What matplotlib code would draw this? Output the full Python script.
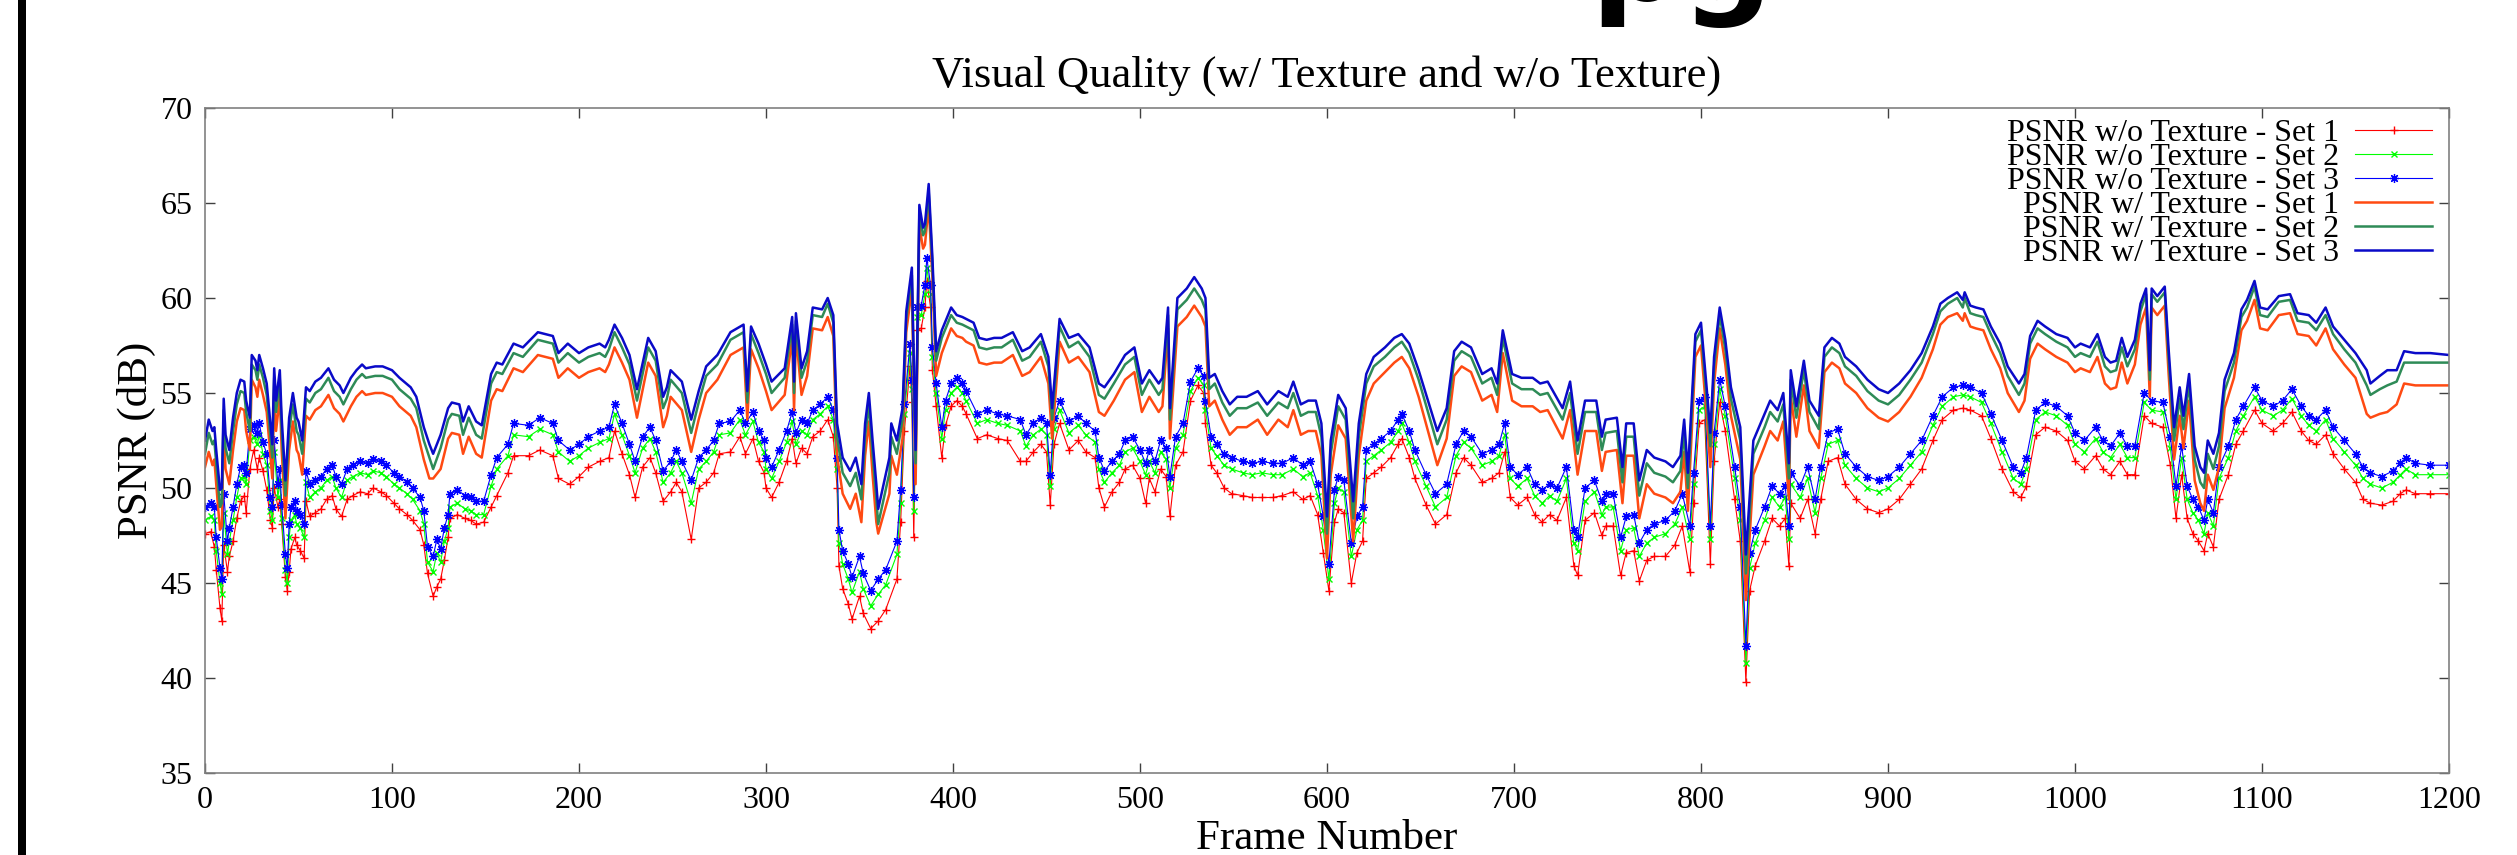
import matplotlib
matplotlib.use("Agg")
import matplotlib.pyplot as plt
from matplotlib.patches import Rectangle

# ---- data (frame number, PSNR in dB) ----
FRAMES_TEX = [
    0, 2, 4, 5, 6, 8, 9, 10, 11, 13,
    15, 17, 19, 21, 22, 24, 25, 27, 28, 29,
    31, 33, 35, 36, 37, 38, 40, 41, 43, 44,
    45, 47, 49, 50, 52, 54, 56, 59, 62, 66,
    69, 72, 74, 78, 81, 84, 86, 91, 95, 100,
    104, 110, 113, 117, 120, 122, 126, 130, 132, 136,
    138, 141, 145, 148, 153, 156, 159, 165, 170, 178,
    186, 189, 194, 200, 205, 211, 214, 216, 219, 223,
    227, 231, 237, 241, 245, 247, 249, 255, 260, 264,
    268, 274, 281, 288, 290, 292, 296, 300, 303, 310,
    314, 315, 316, 319, 322, 325, 330, 333, 336, 338,
    341, 345, 348, 351, 353, 355, 357, 359, 360, 366,
    367, 370, 373, 375, 378, 380, 382, 384, 385, 387,
    389, 391, 394, 399, 402, 405, 407, 411, 414, 418,
    422, 426, 432, 437, 441, 447, 451, 453, 457, 462,
    467, 473, 478, 481, 486, 492, 497, 501, 505, 510,
    512, 515, 516, 520, 525, 529, 533, 535, 537, 540,
    544, 548, 552, 557, 563, 568, 574, 579, 582, 586,
    590, 594, 597, 600, 602, 606, 610, 614, 617, 621,
    625, 631, 636, 640, 644, 649, 654, 659, 664, 668,
    672, 677, 683, 688, 691, 694, 699, 704, 710, 714,
    718, 726, 730, 734, 738, 744, 747, 749, 755, 758,
    760, 764, 767, 771, 775, 781, 785, 789, 791, 793,
    797, 800, 803, 805, 807, 810, 813, 816, 821, 824,
    828, 834, 837, 841, 844, 847, 848, 851, 855, 858,
    863, 866, 870, 874, 877, 883, 889, 895, 900, 906,
    912, 918, 924, 928, 932, 937, 940, 941, 944, 947,
    951, 955, 960, 964, 970, 973, 976, 980, 984, 990,
    996, 1000, 1003, 1008, 1012, 1016, 1019, 1022, 1025, 1028,
    1032, 1035, 1038, 1040, 1041, 1044, 1048, 1050, 1053, 1056,
    1058, 1061, 1064, 1067, 1069, 1071, 1074, 1077, 1080, 1085,
    1089, 1092, 1096, 1099, 1103, 1109, 1115, 1119, 1125, 1129,
    1134, 1138, 1144, 1150, 1156, 1158, 1163, 1167, 1172, 1176,
    1182, 1190, 1200,
]
TEX_SET3 = [
    52.5, 53.6, 53.0, 53.2, 52.0, 49.9, 50.0, 54.7, 52.8, 52.0,
    53.7, 55.0, 55.7, 55.6, 54.6, 53.7, 57.0, 56.7, 56.2, 57.0,
    56.3, 55.5, 53.4, 52.3, 56.3, 54.6, 56.2, 53.7, 50.4, 52.0,
    53.7, 55.0, 53.7, 53.5, 52.5, 55.3, 55.1, 55.6, 55.8, 56.3,
    55.7, 55.4, 55.0, 55.8, 56.2, 56.5, 56.3, 56.4, 56.4, 56.2,
    55.8, 55.3, 54.8, 53.2, 52.3, 51.8, 52.8, 54.2, 54.5, 54.4,
    53.5, 54.3, 53.5, 53.3, 56.0, 56.6, 56.5, 57.6, 57.4, 58.2,
    58.0, 57.1, 57.6, 57.1, 57.4, 57.6, 57.4, 57.8, 58.6, 57.9,
    57.0, 55.2, 57.9, 57.2, 54.8, 55.3, 56.2, 55.6, 53.6, 55.1,
    56.4, 57.0, 58.2, 58.6, 55.1, 58.5, 57.6, 56.5, 55.6, 56.3,
    59.0, 55.6, 59.2, 56.3, 57.2, 59.5, 59.4, 60.0, 59.1, 53.4,
    51.6, 50.9, 51.6, 50.2, 53.4, 55.0, 52.5, 50.2, 48.9, 51.6,
    53.4, 52.5, 54.2, 59.3, 61.6, 52.0, 64.9, 63.7, 63.9, 66.0,
    62.1, 57.2, 58.3, 59.5, 59.1, 59.0, 58.9, 58.7, 57.9, 57.8,
    57.9, 57.9, 58.2, 57.2, 57.4, 58.1, 56.9, 54.2, 58.9, 57.9,
    58.1, 57.4, 55.5, 55.3, 56.0, 57.0, 57.4, 55.5, 56.2, 55.5,
    55.8, 59.5, 54.2, 60.0, 60.5, 61.1, 60.5, 60.0, 55.8, 56.0,
    55.1, 54.4, 54.8, 54.8, 55.1, 54.4, 55.1, 54.8, 55.6, 54.4,
    54.6, 54.6, 53.4, 48.5, 52.5, 54.9, 54.2, 49.3, 53.4, 56.0,
    56.9, 57.4, 57.9, 58.1, 57.6, 56.2, 54.6, 53.0, 54.2, 57.2,
    57.7, 57.4, 56.0, 56.3, 55.5, 58.3, 56.0, 55.8, 55.8, 55.5,
    55.6, 54.2, 55.6, 52.5, 54.6, 54.6, 52.7, 53.6, 53.7, 51.1,
    53.4, 53.4, 50.4, 52.0, 51.6, 51.4, 51.1, 51.7, 53.6, 50.8,
    58.1, 58.7, 55.3, 52.9, 56.9, 59.5, 57.8, 55.3, 53.2, 46.5,
    52.5, 53.9, 54.6, 54.1, 55.0, 51.3, 56.2, 54.3, 56.7, 54.6,
    53.8, 57.4, 57.9, 57.6, 56.9, 56.4, 55.7, 55.2, 55.0, 55.5,
    56.2, 57.1, 58.5, 59.7, 60.0, 60.3, 59.9, 60.3, 59.6, 59.5,
    59.4, 58.5, 57.6, 56.4, 55.5, 56.0, 58.0, 58.8, 58.5, 58.1,
    57.9, 57.4, 57.6, 57.4, 58.1, 56.9, 56.6, 56.7, 57.9, 56.9,
    57.8, 59.7, 60.5, 56.2, 60.5, 60.1, 60.6, 57.4, 53.2, 55.3,
    53.8, 56.0, 52.2, 51.1, 50.8, 52.5, 51.8, 52.9, 55.7, 57.1,
    59.4, 59.9, 60.9, 59.5, 59.4, 60.1, 60.2, 59.2, 59.1, 58.7,
    59.5, 58.5, 57.8, 57.1, 56.2, 55.5, 55.9, 56.2, 56.2, 57.2,
    57.1, 57.1, 57.0,
]
TEX_SET2 = [
    51.8, 52.9, 52.3, 52.5, 51.3, 49.0, 49.2, 54.1, 52.1, 51.3,
    53.0, 54.4, 55.1, 55.0, 54.0, 53.0, 56.5, 56.2, 55.7, 56.5,
    55.8, 54.9, 52.7, 51.6, 55.8, 54.0, 55.7, 53.0, 49.6, 51.3,
    53.0, 54.4, 53.0, 52.8, 51.8, 54.7, 54.5, 55.0, 55.2, 55.8,
    55.1, 54.8, 54.4, 55.2, 55.7, 56.0, 55.8, 55.9, 55.9, 55.7,
    55.2, 54.7, 54.2, 52.5, 51.6, 51.0, 52.1, 53.6, 53.9, 53.8,
    52.8, 53.7, 52.8, 52.6, 55.5, 56.1, 56.0, 57.1, 56.9, 57.8,
    57.6, 56.6, 57.1, 56.6, 56.9, 57.1, 56.9, 57.3, 58.2, 57.4,
    56.5, 54.6, 57.4, 56.7, 54.2, 54.7, 55.7, 55.0, 52.9, 54.5,
    55.9, 56.5, 57.8, 58.2, 54.5, 58.1, 57.1, 56.0, 55.0, 55.8,
    58.6, 55.0, 58.8, 55.8, 56.7, 59.1, 59.0, 59.7, 58.7, 52.7,
    50.8, 50.1, 50.8, 49.4, 52.7, 54.4, 51.8, 49.4, 48.1, 50.8,
    52.7, 51.8, 53.6, 58.9, 61.2, 51.3, 64.5, 63.3, 63.5, 65.6,
    61.7, 56.7, 57.9, 59.1, 58.7, 58.6, 58.5, 58.3, 57.4, 57.3,
    57.4, 57.4, 57.8, 56.7, 56.9, 57.7, 56.4, 53.6, 58.5, 57.4,
    57.7, 56.9, 54.9, 54.7, 55.5, 56.5, 56.9, 54.9, 55.7, 54.9,
    55.2, 59.1, 53.6, 59.4, 59.9, 60.5, 59.9, 59.4, 55.2, 55.5,
    54.5, 53.8, 54.2, 54.2, 54.5, 53.8, 54.5, 54.2, 55.0, 53.8,
    54.0, 54.0, 52.7, 47.6, 51.8, 54.3, 53.6, 48.4, 52.7, 55.5,
    56.4, 56.9, 57.4, 57.7, 57.1, 55.7, 54.0, 52.3, 53.6, 56.7,
    57.2, 56.9, 55.5, 55.8, 54.9, 57.9, 55.5, 55.2, 55.2, 54.9,
    55.0, 53.6, 55.0, 51.8, 54.0, 54.0, 52.0, 52.9, 53.0, 50.3,
    52.7, 52.7, 49.6, 51.3, 50.8, 50.6, 50.3, 50.9, 52.9, 50.0,
    57.7, 58.3, 54.7, 52.2, 56.4, 59.1, 57.3, 54.7, 52.5, 45.5,
    51.8, 53.2, 54.0, 53.5, 54.4, 50.5, 55.7, 53.7, 56.2, 54.0,
    53.1, 56.9, 57.4, 57.1, 56.4, 55.9, 55.1, 54.6, 54.4, 54.9,
    55.7, 56.6, 58.1, 59.3, 59.7, 60.0, 59.5, 60.0, 59.2, 59.1,
    59.0, 58.1, 57.1, 55.9, 54.9, 55.5, 57.6, 58.4, 58.1, 57.7,
    57.4, 56.9, 57.1, 56.9, 57.7, 56.4, 56.1, 56.2, 57.4, 56.4,
    57.3, 59.3, 60.2, 55.7, 60.2, 59.8, 60.3, 56.9, 52.5, 54.7,
    53.1, 55.5, 51.5, 50.3, 50.0, 51.8, 51.0, 52.2, 55.1, 56.6,
    59.0, 59.5, 60.6, 59.1, 59.0, 59.8, 59.9, 58.8, 58.7, 58.3,
    59.1, 58.1, 57.3, 56.6, 55.4, 54.9, 55.2, 55.4, 55.6, 56.6,
    56.6, 56.6, 56.6,
]
TEX_SET1 = [
    51.1, 51.9, 51.2, 51.5, 50.2, 47.8, 48.0, 53.1, 51.0, 50.2,
    52.0, 53.5, 54.2, 54.1, 53.0, 52.0, 55.7, 55.3, 54.8, 55.7,
    54.9, 54.0, 51.7, 50.5, 54.9, 53.0, 54.8, 52.0, 48.4, 50.2,
    52.0, 53.5, 52.0, 51.8, 50.7, 53.8, 53.6, 54.1, 54.3, 54.9,
    54.2, 53.9, 53.5, 54.3, 54.8, 55.1, 54.9, 55.0, 55.0, 54.8,
    54.3, 53.8, 53.2, 51.5, 50.5, 50.5, 51.0, 52.6, 52.9, 52.8,
    51.8, 52.7, 51.8, 51.6, 54.6, 55.2, 55.1, 56.3, 56.1, 57.0,
    56.8, 55.8, 56.3, 55.8, 56.1, 56.3, 56.1, 56.5, 57.4, 56.6,
    55.7, 53.7, 56.6, 55.9, 53.2, 53.8, 54.8, 54.1, 51.9, 53.6,
    55.0, 55.7, 57.0, 57.4, 53.6, 57.3, 56.3, 55.1, 54.1, 54.9,
    57.9, 54.1, 58.1, 54.9, 55.9, 58.4, 58.3, 59.0, 58.0, 51.7,
    49.7, 48.9, 49.7, 48.2, 51.7, 53.5, 50.7, 48.2, 47.6, 49.7,
    51.7, 50.7, 52.6, 58.2, 60.5, 50.2, 63.8, 62.6, 62.8, 64.9,
    61.0, 55.9, 57.1, 58.4, 58.0, 57.9, 57.7, 57.5, 56.6, 56.5,
    56.6, 56.6, 57.0, 55.9, 56.1, 56.9, 55.5, 52.6, 57.7, 56.6,
    56.9, 56.1, 54.0, 53.8, 54.6, 55.7, 56.1, 54.0, 54.8, 54.0,
    54.3, 58.4, 52.6, 58.5, 59.0, 59.6, 59.0, 58.5, 54.3, 54.6,
    53.6, 52.8, 53.2, 53.2, 53.6, 52.8, 53.6, 53.2, 54.1, 52.8,
    53.0, 53.0, 51.7, 46.3, 50.7, 53.3, 52.6, 47.2, 51.7, 54.6,
    55.5, 56.1, 56.6, 56.9, 56.3, 54.8, 53.0, 51.2, 52.6, 55.9,
    56.4, 56.1, 54.6, 54.9, 54.0, 57.1, 54.6, 54.3, 54.3, 54.0,
    54.1, 52.6, 54.1, 50.7, 53.0, 53.0, 50.9, 51.9, 52.0, 49.2,
    51.7, 51.7, 48.4, 50.2, 49.7, 49.5, 49.2, 49.8, 51.9, 48.8,
    56.9, 57.5, 53.8, 51.1, 55.5, 58.4, 56.5, 53.8, 51.5, 44.1,
    50.7, 52.2, 53.0, 52.5, 53.5, 49.4, 54.8, 52.7, 55.4, 53.0,
    52.1, 56.1, 56.6, 56.3, 55.5, 55.0, 54.2, 53.7, 53.5, 54.0,
    54.8, 55.8, 57.3, 58.6, 59.0, 59.2, 58.8, 59.2, 58.5, 58.4,
    58.3, 57.3, 56.3, 55.0, 54.0, 54.6, 56.8, 57.6, 57.3, 56.9,
    56.6, 56.1, 56.3, 56.1, 56.9, 55.5, 55.2, 55.3, 56.6, 55.5,
    56.5, 58.6, 59.5, 54.8, 59.5, 59.1, 59.6, 56.1, 51.5, 53.8,
    52.1, 54.6, 50.4, 49.2, 48.8, 50.7, 49.9, 51.1, 54.2, 55.8,
    58.3, 58.8, 59.9, 58.4, 58.3, 59.1, 59.2, 58.1, 58.0, 57.5,
    58.4, 57.3, 56.5, 55.8, 53.9, 53.7, 53.9, 54.0, 54.4, 55.5,
    55.4, 55.4, 55.4,
]

FRAMES_NOTEX = [
    0, 3, 5, 6, 8, 9, 10, 12, 13, 15,
    17, 19, 21, 22, 24, 26, 28, 29, 31, 33,
    35, 36, 37, 39, 40, 41, 43, 44, 45, 46,
    48, 49, 51, 53, 54, 56, 59, 62, 65, 68,
    70, 73, 76, 79, 83, 87, 90, 94, 97, 101,
    104, 108, 111, 115, 117, 119, 122, 124, 126, 128,
    130, 131, 135, 139, 142, 145, 149, 153, 156, 162,
    165, 173, 179, 186, 189, 195, 200, 205, 211, 216,
    219, 223, 227, 230, 234, 238, 241, 245, 249, 252,
    255, 260, 264, 268, 272, 275, 281, 286, 289, 293,
    296, 299, 300, 303, 307, 311, 314, 316, 319, 322,
    325, 329, 333, 336, 338, 339, 341, 344, 346, 350,
    352, 356, 360, 364, 370, 372, 374, 377, 378, 379,
    381, 383, 385, 386, 388, 389, 391, 394, 396, 399,
    402, 405, 407, 413, 418, 424, 429, 436, 439, 443,
    447, 450, 452, 454, 457, 462, 467, 471, 476, 478,
    481, 485, 489, 492, 496, 500, 503, 505, 508, 511,
    514, 516, 519, 523, 527, 531, 534, 535, 538, 541,
    545, 549, 555, 560, 565, 571, 576, 582, 587, 591,
    595, 598, 601, 604, 606, 609, 613, 616, 619, 621,
    625, 629, 634, 638, 640, 644, 647, 653, 658, 664,
    669, 673, 677, 683, 688, 692, 695, 698, 702, 707,
    711, 715, 719, 723, 728, 732, 734, 738, 743, 747,
    749, 753, 757, 760, 764, 767, 771, 775, 781, 786,
    790, 794, 796, 799, 802, 805, 807, 810, 813, 818,
    821, 824, 826, 829, 834, 838, 842, 845, 847, 848,
    853, 857, 861, 864, 868, 873, 877, 883, 889, 895,
    900, 906, 912, 918, 924, 929, 935, 940, 944, 950,
    955, 961, 967, 971, 974, 979, 984, 990, 996, 1000,
    1005, 1011, 1015, 1019, 1024, 1028, 1032, 1037, 1041, 1047,
    1051, 1054, 1057, 1060, 1063, 1066, 1069, 1071, 1074, 1077,
    1082, 1086, 1090, 1096, 1100, 1106, 1111, 1116, 1121, 1125,
    1129, 1134, 1138, 1144, 1150, 1154, 1158, 1164, 1170, 1174,
    1177, 1182, 1190, 1200,
]
NOTEX_SET3 = [
    49.0, 49.2, 49.0, 47.4, 45.8, 45.2, 49.7, 47.2, 47.9, 49.0,
    50.2, 51.1, 51.2, 50.8, 53.1, 53.3, 52.9, 53.4, 52.4, 51.8,
    49.5, 49.0, 52.5, 50.2, 51.0, 49.1, 46.5, 45.8, 48.1, 49.0,
    49.3, 48.8, 48.6, 48.1, 50.9, 50.2, 50.4, 50.6, 51.0, 51.2,
    50.6, 50.2, 51.0, 51.2, 51.4, 51.3, 51.5, 51.4, 51.2, 50.8,
    50.6, 50.3, 50.0, 49.5, 48.8, 46.9, 46.4, 47.3, 46.8, 47.9,
    48.6, 49.7, 49.9, 49.6, 49.5, 49.3, 49.3, 50.7, 51.6, 52.3,
    53.4, 53.3, 53.7, 53.4, 52.5, 52.0, 52.3, 52.7, 53.0, 53.2,
    54.4, 53.4, 52.3, 51.4, 52.7, 53.2, 52.5, 50.9, 51.4, 52.0,
    51.4, 50.4, 51.6, 52.0, 52.5, 53.4, 53.5, 54.1, 53.4, 54.0,
    53.0, 52.5, 51.6, 51.1, 52.0, 53.0, 54.0, 52.9, 53.6, 53.4,
    54.1, 54.4, 54.8, 54.1, 51.6, 47.8, 46.7, 46.0, 45.3, 46.4,
    45.5, 44.6, 45.2, 45.7, 47.2, 49.9, 54.4, 57.6, 55.7, 49.5,
    59.5, 59.6, 60.7, 62.1, 60.7, 57.4, 55.5, 53.2, 54.6, 55.5,
    55.8, 55.5, 55.1, 53.9, 54.1, 53.9, 53.8, 53.6, 52.8, 53.4,
    53.7, 53.4, 50.7, 53.7, 54.6, 53.5, 53.8, 53.4, 53.0, 51.6,
    50.9, 51.4, 51.8, 52.5, 52.7, 52.0, 51.3, 52.0, 51.4, 52.5,
    52.1, 50.6, 52.7, 53.4, 55.6, 56.3, 55.9, 54.6, 52.7, 52.3,
    51.8, 51.6, 51.4, 51.3, 51.4, 51.3, 51.3, 51.6, 51.2, 51.4,
    50.2, 48.5, 46.0, 49.9, 50.6, 50.4, 47.1, 48.5, 49.0, 52.0,
    52.3, 52.6, 53.0, 53.6, 53.9, 53.0, 52.0, 50.7, 49.7, 50.2,
    52.3, 53.0, 52.7, 51.8, 52.0, 52.3, 53.4, 51.1, 50.7, 51.1,
    50.2, 49.9, 50.2, 50.0, 51.1, 47.8, 47.4, 50.0, 50.4, 49.3,
    49.7, 49.7, 47.4, 48.5, 48.6, 47.1, 47.8, 48.1, 48.3, 48.8,
    49.7, 48.0, 50.8, 54.6, 54.8, 48.0, 52.9, 55.7, 54.3, 51.1,
    49.0, 41.7, 46.6, 47.8, 49.0, 50.1, 49.7, 50.1, 48.0, 50.8,
    50.1, 51.1, 49.4, 51.1, 52.9, 53.1, 51.8, 51.1, 50.6, 50.4,
    50.6, 51.1, 51.8, 52.5, 53.8, 54.8, 55.3, 55.4, 55.3, 55.0,
    53.9, 52.5, 51.1, 50.8, 51.6, 54.1, 54.5, 54.3, 53.8, 52.9,
    52.5, 53.2, 52.5, 52.2, 52.9, 52.2, 52.2, 55.0, 54.6, 54.5,
    52.7, 50.1, 52.2, 50.1, 49.4, 49.0, 48.3, 49.4, 48.7, 51.1,
    52.2, 53.6, 54.3, 55.3, 54.6, 54.3, 54.6, 55.2, 54.3, 53.8,
    53.6, 54.1, 53.2, 52.5, 51.8, 51.1, 50.8, 50.6, 50.9, 51.3,
    51.6, 51.3, 51.2, 51.2,
]
NOTEX_SET2 = [
    48.3, 48.5, 48.3, 46.7, 45.0, 44.4, 48.7, 46.5, 47.2, 48.3,
    49.5, 50.5, 50.6, 50.2, 52.5, 52.7, 52.3, 52.8, 51.8, 51.2,
    48.8, 48.3, 51.9, 49.5, 50.4, 48.4, 45.7, 45.0, 47.4, 48.3,
    48.6, 48.1, 47.9, 47.4, 50.3, 49.5, 49.8, 50.0, 50.4, 50.6,
    50.0, 49.5, 50.4, 50.6, 50.8, 50.7, 50.9, 50.8, 50.6, 50.2,
    50.0, 49.7, 49.4, 48.8, 48.1, 46.1, 45.6, 46.6, 46.1, 47.2,
    47.9, 49.0, 49.2, 48.9, 48.8, 48.6, 48.6, 50.1, 51.0, 51.7,
    52.8, 52.7, 53.1, 52.8, 51.9, 51.4, 51.7, 52.1, 52.4, 52.6,
    53.9, 52.8, 51.7, 50.8, 52.1, 52.6, 51.9, 50.3, 50.8, 51.4,
    50.8, 49.2, 51.0, 51.4, 51.9, 52.8, 52.9, 53.6, 52.8, 53.5,
    52.4, 51.9, 51.0, 50.5, 51.4, 52.4, 53.5, 52.3, 53.0, 52.8,
    53.6, 53.9, 54.3, 53.6, 51.0, 47.1, 46.0, 45.2, 44.5, 45.6,
    44.7, 43.8, 44.4, 44.9, 46.5, 49.2, 53.9, 57.1, 55.2, 48.8,
    59.0, 59.1, 60.2, 61.6, 60.2, 56.9, 55.0, 52.6, 54.1, 55.0,
    55.3, 55.0, 54.6, 53.4, 53.6, 53.4, 53.3, 53.0, 52.2, 52.8,
    53.1, 52.8, 50.1, 53.1, 54.1, 52.9, 53.3, 52.8, 52.4, 51.0,
    50.3, 50.8, 51.2, 51.9, 52.1, 51.4, 50.7, 51.4, 50.8, 51.9,
    51.5, 50.0, 52.1, 52.8, 55.1, 55.8, 55.4, 54.1, 52.1, 51.7,
    51.2, 51.0, 50.8, 50.7, 50.8, 50.7, 50.7, 51.0, 50.6, 50.8,
    49.6, 47.8, 45.2, 49.2, 50.0, 49.8, 46.4, 47.8, 48.3, 51.4,
    51.7, 52.0, 52.4, 53.0, 53.4, 52.4, 51.4, 50.1, 49.0, 49.5,
    51.7, 52.4, 52.1, 51.2, 51.4, 51.7, 52.8, 50.5, 50.1, 50.5,
    49.6, 49.2, 49.6, 49.3, 50.5, 47.1, 46.7, 49.3, 49.8, 48.6,
    49.0, 49.0, 46.7, 47.8, 47.9, 46.4, 47.1, 47.4, 47.6, 48.1,
    49.0, 47.3, 50.2, 54.1, 54.3, 47.3, 52.3, 55.2, 53.8, 50.5,
    48.3, 40.8, 45.8, 47.1, 48.3, 49.5, 49.0, 49.5, 47.3, 50.2,
    49.5, 50.5, 48.7, 50.5, 52.3, 52.5, 51.2, 50.5, 50.0, 49.8,
    50.0, 50.5, 51.2, 51.9, 53.3, 54.3, 54.8, 54.9, 54.8, 54.5,
    53.4, 51.9, 50.5, 50.2, 51.0, 53.6, 54.0, 53.8, 53.3, 52.3,
    51.9, 52.6, 51.9, 51.6, 52.3, 51.6, 51.6, 54.5, 54.1, 54.0,
    52.1, 49.4, 51.6, 49.4, 48.7, 48.3, 47.6, 48.7, 48.0, 50.5,
    51.6, 53.0, 53.8, 54.8, 54.1, 53.8, 54.1, 54.7, 53.8, 53.3,
    53.0, 53.6, 52.6, 51.9, 51.2, 50.5, 50.2, 50.0, 50.3, 50.7,
    51.0, 50.7, 50.7, 50.7,
]
NOTEX_SET1 = [
    47.6, 47.7, 46.9, 45.7, 43.7, 43.0, 47.0, 45.6, 46.4, 47.2,
    48.4, 49.3, 49.6, 48.7, 51.0, 52.0, 51.0, 51.6, 50.9, 49.9,
    48.3, 47.9, 50.0, 49.0, 49.4, 48.1, 45.3, 44.6, 45.6, 46.8,
    47.4, 47.0, 46.7, 46.3, 49.3, 48.5, 48.7, 48.9, 49.4, 49.6,
    48.9, 48.5, 49.4, 49.6, 49.8, 49.7, 50.0, 49.8, 49.6, 49.2,
    48.9, 48.6, 48.3, 47.8, 47.0, 45.5, 44.3, 44.8, 45.2, 46.2,
    47.4, 48.4, 48.6, 48.4, 48.3, 48.1, 48.2, 49.0, 49.6, 50.8,
    51.7, 51.7, 52.0, 51.7, 50.5, 50.2, 50.6, 51.1, 51.4, 51.6,
    53.0, 51.8, 50.7, 49.5, 51.1, 51.6, 50.8, 49.3, 49.8, 50.3,
    49.8, 47.3, 50.0, 50.3, 50.8, 51.8, 51.9, 52.7, 51.8, 52.6,
    51.4, 50.8, 50.0, 49.5, 50.3, 51.4, 52.6, 51.3, 52.1, 51.8,
    52.7, 53.0, 53.6, 52.7, 50.0, 45.9, 44.7, 43.9, 43.1, 44.3,
    43.4, 42.6, 43.0, 43.6, 45.2, 48.2, 53.0, 56.4, 54.5, 47.4,
    58.3, 58.4, 59.5, 60.9, 59.5, 56.2, 54.3, 51.6, 53.3, 54.3,
    54.6, 54.3, 53.9, 52.6, 52.8, 52.6, 52.5, 51.4, 51.4, 51.9,
    52.3, 51.9, 49.1, 52.3, 53.4, 52.0, 52.5, 51.9, 51.6, 50.0,
    49.0, 49.8, 50.3, 51.0, 51.2, 50.5, 49.2, 50.5, 49.8, 51.0,
    50.6, 48.5, 51.2, 51.9, 54.6, 55.4, 55.0, 53.4, 51.2, 50.8,
    50.0, 49.7, 49.6, 49.5, 49.5, 49.5, 49.6, 49.8, 49.4, 49.6,
    48.6, 46.6, 44.6, 48.2, 48.9, 48.7, 45.0, 46.6, 47.2, 50.5,
    50.8, 51.1, 51.6, 52.3, 52.6, 51.6, 50.5, 49.1, 48.1, 48.6,
    50.8, 51.6, 51.2, 50.3, 50.5, 50.8, 51.9, 49.5, 49.1, 49.5,
    48.6, 48.2, 48.6, 48.3, 49.5, 45.9, 45.4, 48.3, 48.7, 47.5,
    48.0, 48.0, 45.4, 46.6, 46.7, 45.1, 46.2, 46.4, 46.4, 47.0,
    48.0, 45.6, 49.2, 53.4, 53.6, 46.0, 51.4, 54.5, 53.0, 49.4,
    47.2, 39.8, 44.6, 45.9, 47.2, 48.4, 48.0, 48.4, 45.9, 49.2,
    48.4, 49.4, 47.6, 49.4, 51.4, 51.6, 50.2, 49.4, 48.9, 48.7,
    48.9, 49.4, 50.2, 51.0, 52.5, 53.6, 54.1, 54.2, 54.1, 53.8,
    52.6, 51.0, 49.8, 49.5, 50.1, 52.8, 53.2, 53.0, 52.5, 51.4,
    51.0, 51.7, 51.0, 50.7, 51.4, 50.7, 50.7, 53.8, 53.4, 53.2,
    51.2, 48.4, 50.7, 48.4, 47.6, 47.2, 46.7, 47.6, 46.9, 49.4,
    50.7, 52.3, 53.0, 54.1, 53.4, 53.0, 53.4, 54.0, 53.0, 52.5,
    52.3, 52.8, 51.8, 51.0, 50.3, 49.4, 49.2, 49.1, 49.3, 49.7,
    49.9, 49.7, 49.7, 49.7,
]

LABELS = [
    "PSNR w/o Texture - Set 1", "PSNR w/o Texture - Set 2", "PSNR w/o Texture - Set 3",
    "PSNR w/ Texture - Set 1", "PSNR w/ Texture - Set 2", "PSNR w/ Texture - Set 3",
]
XTICKS = list(range(0, 1201, 100))
YTICKS = list(range(35, 71, 5))

plt.rcParams['font.family'] = ['Liberation Serif', 'DejaVu Serif']

W, H = 2517, 855
fig = plt.figure(figsize=(W / 100, H / 100), dpi=100)
ax = fig.add_axes([205 / W, 1 - 773 / H, (2449 - 205) / W, (773 - 108) / H])

# w/o texture: thin lines with point markers
ax.plot(FRAMES_NOTEX, NOTEX_SET1, color='#ff0000', lw=0.8, marker='+', ms=6, mew=1.0, label=LABELS[0])
ax.plot(FRAMES_NOTEX, NOTEX_SET2, color='#00ff00', lw=0.8, marker='x', ms=4.5, mew=1.0, label=LABELS[1])
ax.plot(FRAMES_NOTEX, NOTEX_SET3, color='#0000ff', lw=0.8, marker=(8, 2, 0), ms=6.5, mew=0.9, label=LABELS[2])
# w/ texture: thicker plain lines
ax.plot(FRAMES_TEX, TEX_SET1, color='#ff4a12', lw=1.8, label=LABELS[3])
ax.plot(FRAMES_TEX, TEX_SET2, color='#2e8b57', lw=1.8, label=LABELS[4])
ax.plot(FRAMES_TEX, TEX_SET3, color='#0a0ac8', lw=1.8, label=LABELS[5])

ax.set_xlim(0, 1200)
ax.set_ylim(35, 70)
ax.set_xticks(XTICKS)
ax.set_yticks(YTICKS)
ax.tick_params(direction='in', length=7, width=1.0, color='#404040', labelsize=23,
               top=True, right=True, pad=9)
for s in ax.spines.values():
    s.set_color('#808080')
    s.set_linewidth(1.2)

leg = ax.legend(loc='upper right', bbox_to_anchor=(2432 / W, 1 - 119 / H),
                bbox_transform=fig.transFigure, frameon=False, fontsize=23,
                markerfirst=False, handlelength=2.4, handletextpad=0.5,
                labelspacing=-0.17, borderpad=0, borderaxespad=0)

cx = (205 + 2449) / 2 / W
fig.text(cx, 1 - 76 / H, "Visual Quality (w/ Texture and w/o Texture)",
         ha='center', va='center', fontsize=32)
fig.text(cx, 1 - 849 / H, "Frame Number", ha='center', va='baseline', fontsize=31)
fig.text(136 / W, 1 - 440 / H, "PSNR (dB)", ha='center', va='center',
         rotation=90, fontsize=31)

# slide remnants: black bar on the left and the clipped heading above
fig.add_artist(Rectangle((18 / W, 0), 8 / W, 1, transform=fig.transFigure,
                         color='black', lw=0))
fig.text(1590 / W, 1.0, "pg", ha='left', va='baseline', fontsize=92,
         family='DejaVu Sans', fontweight='bold')

fig.savefig("out.png", dpi=100)
